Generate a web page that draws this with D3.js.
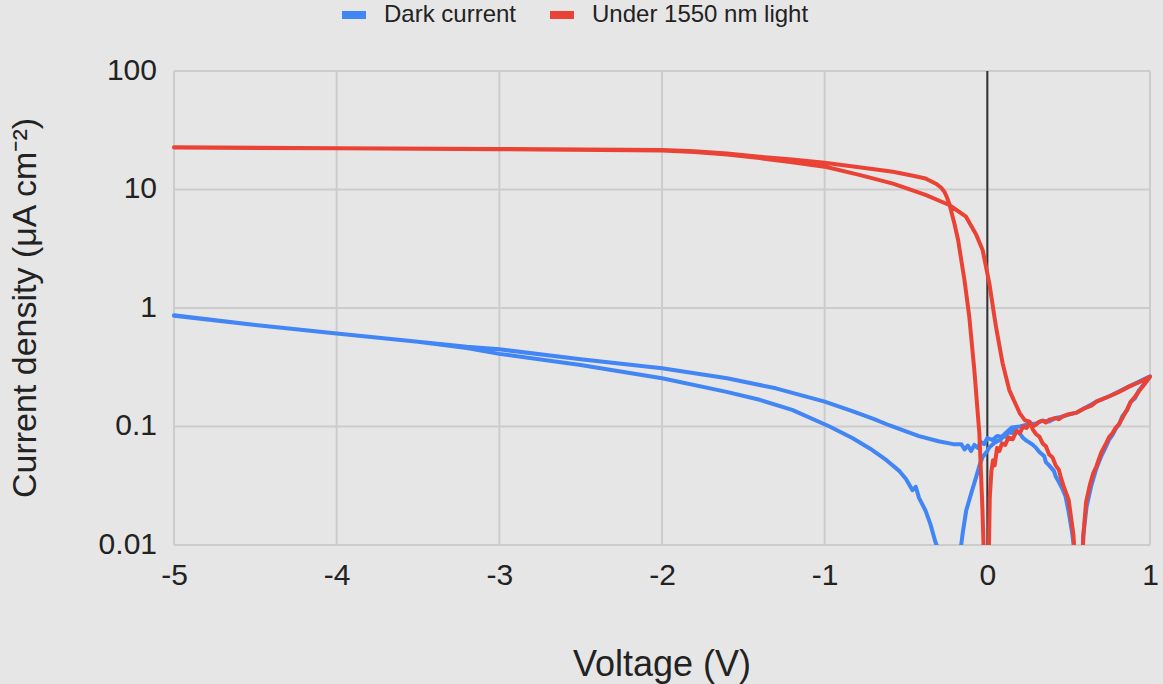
<!DOCTYPE html>
<html>
<head>
<meta charset="utf-8">
<script src="https://cdn.jsdelivr.net/npm/d3@7"></script>
<style>
  html, body { margin: 0; padding: 0; background: #e6e6e6; }
  svg { display: block; font-family: "Liberation Sans", Arial, sans-serif; }
</style>
</head>
<body>
<div id="chart"></div>
<script>
// x ticks and y ticks
var xTicks = [-5, -4, -3, -2, -1, 0, 1];
var xTickLabels = ["-5", "-4", "-3", "-2", "-1", "0", "1"];
var yTicks = [0.01, 0.1, 1, 10, 100];
var yTickLabels = ["0.01", "0.1", "1", "10", "100"];

var seriesNames = ["Dark current", "Under 1550 nm light"];
var seriesColors = ["#4285f4", "#ea4335"];

// dark current sweep: -5 -> 1 then back 1 -> -5 (|J|, uA cm^-2)
var darkV = [
  -5, -4.5, -4, -3.5, -3.2, -3, -2.5, -2, -1.6, -1.3, -1.0, -0.83, -0.7, -0.6, -0.5, -0.42, -0.3, -0.21,
  -0.16, -0.14, -0.12, -0.1, -0.08, -0.06, -0.04, -0.02, 0, 0.03, 0.06, 0.09, 0.12, 0.15, 0.2, 0.25, 0.3,
  0.34, 0.38, 0.42, 0.46, 0.5, 0.55, 0.6, 0.67, 0.75, 0.87, 1.0,
  0.96, 0.93, 0.91, 0.88, 0.86, 0.83, 0.81, 0.79, 0.77, 0.75, 0.73, 0.70, 0.67, 0.64, 0.61, 0.59, 0.575,
  0.545, 0.535, 0.52, 0.50, 0.48, 0.46, 0.44, 0.42, 0.41, 0.38, 0.36, 0.35, 0.32, 0.3, 0.28, 0.26, 0.24,
  0.22, 0.2, 0.17, 0.15, 0.13, 0.11, 0.1, 0.08, 0.06, 0.04, 0.03, 0.01, 0.0, -0.03, -0.05, -0.07, -0.1,
  -0.13, -0.15, -0.17, -0.2, -0.24, -0.28, -0.31, -0.32, -0.35, -0.38, -0.42, -0.44, -0.46, -0.5, -0.54, -0.62,
  -0.72, -0.83, -0.97, -1.2, -1.4, -1.61, -2, -2.5, -3, -3.2, -3.5, -4, -4.5, -5
];
var darkJ = [
  0.87, 0.72, 0.61, 0.52, 0.47, 0.448, 0.37, 0.31, 0.255, 0.21, 0.162, 0.135, 0.116, 0.102, 0.091, 0.083, 0.075, 0.071,
  0.071, 0.064, 0.069, 0.062, 0.07, 0.066, 0.074, 0.071, 0.08, 0.077, 0.083, 0.082, 0.09, 0.098, 0.1, 0.104, 0.106,
  0.112, 0.11, 0.118, 0.121, 0.126, 0.131, 0.143, 0.162, 0.18, 0.217, 0.265,
  0.225, 0.2, 0.175, 0.16, 0.138, 0.122, 0.104, 0.096, 0.085, 0.078, 0.068, 0.056, 0.044, 0.032, 0.021, 0.012, 0.004,
  0.003, 0.009, 0.013, 0.019, 0.026, 0.03, 0.034, 0.038, 0.042, 0.047, 0.05, 0.056, 0.061, 0.066, 0.07, 0.073, 0.076,
  0.08, 0.087, 0.095, 0.088, 0.09, 0.082, 0.083, 0.077, 0.075, 0.072, 0.07, 0.066, 0.062, 0.055, 0.046, 0.037, 0.027,
  0.0195, 0.013, 0.008, 0.004, 0.001, 0.004, 0.0098, 0.0107, 0.015, 0.0195, 0.025, 0.031, 0.029, 0.036, 0.042, 0.052,
  0.065, 0.08, 0.1, 0.138, 0.168, 0.197, 0.255, 0.33, 0.41, 0.46, 0.52, 0.61, 0.72, 0.86
];

// under 1550 nm light sweep: -5 -> 1 then back 1 -> -5
var lightV = [
  -5, -4, -3, -2, -1.8, -1.6, -1.4, -1.2, -1.0, -0.8, -0.58, -0.45, -0.38, -0.316, -0.285, -0.264, -0.25, -0.234,
  -0.203, -0.18, -0.14, -0.111, -0.08, -0.049, -0.03, -0.012, 0.005, 0.015, 0.025, 0.035, 0.045, 0.06, 0.074,
  0.09, 0.11, 0.13, 0.156, 0.18, 0.2, 0.22, 0.24, 0.26, 0.28, 0.3, 0.32, 0.34, 0.36, 0.38, 0.4, 0.42, 0.44, 0.46,
  0.5, 0.55, 0.6, 0.64, 0.67, 0.75, 0.8, 0.87, 0.93, 1.0,
  0.96, 0.94, 0.91, 0.88, 0.86, 0.83, 0.81, 0.79, 0.77, 0.75, 0.73, 0.70, 0.67, 0.65, 0.63, 0.607, 0.59, 0.576,
  0.545, 0.53, 0.5, 0.47, 0.45, 0.44, 0.42, 0.4, 0.38, 0.36, 0.34, 0.32, 0.3, 0.28, 0.26, 0.23, 0.2, 0.16, 0.135,
  0.094, 0.053, 0.012, -0.029, -0.07, -0.131, -0.234, -0.38, -0.58, -0.787, -0.99, -1.2, -1.4, -1.6, -1.8,
  -2, -3, -4, -5
];
var lightJ = [
  22.7, 22.3, 22.0, 21.5, 21.0, 20.1, 18.9, 17.9, 16.8, 15.5, 14.1, 13.0, 12.4, 11.2, 10.4, 9.57, 8.7, 7.6,
  5.2, 3.77, 1.7, 0.845, 0.3, 0.0875, 0.02, 0.003, 0.004, 0.025, 0.042, 0.052, 0.047, 0.066, 0.062,
  0.072, 0.07, 0.081, 0.078, 0.092, 0.088, 0.1, 0.097, 0.106, 0.1, 0.104, 0.11, 0.112, 0.108, 0.114, 0.116, 0.118, 0.115, 0.121,
  0.127, 0.131, 0.143, 0.15, 0.162, 0.18, 0.193, 0.217, 0.235, 0.263,
  0.222, 0.205, 0.18, 0.16, 0.14, 0.118, 0.105, 0.098, 0.088, 0.082, 0.072, 0.06, 0.046, 0.04, 0.032, 0.023, 0.012, 0.003,
  0.004, 0.012, 0.024, 0.031, 0.038, 0.043, 0.047, 0.055, 0.058, 0.068, 0.072, 0.082, 0.086, 0.094, 0.11, 0.113, 0.129, 0.17, 0.203,
  0.341, 0.695, 1.62, 3.09, 4.2, 5.9, 7.4, 9.0, 11.2, 13.3, 15.5, 17.0, 18.4, 19.7, 20.7,
  21.3, 21.9, 22.3, 22.6
];

var W = 1163, H = 684;
var margin = { top: 71, right: 13, bottom: 139, left: 174 };
var pw = W - margin.left - margin.right,
    ph = H - margin.top - margin.bottom;

var svg = d3.select("#chart").append("svg")
    .attr("width", W)
    .attr("height", H);

svg.append("rect")
    .attr("width", W)
    .attr("height", H)
    .attr("fill", "#e6e6e6");

var xScale = d3.scaleLinear().domain([-5, 1]).range([0, pw]);
var yScale = d3.scaleLog().domain([0.01, 100]).range([ph, 0]);

var g = svg.append("g")
    .attr("transform", "translate(" + margin.left + "," + margin.top + ")");

g.append("clipPath").attr("id", "plot-clip")
    .append("rect")
    .attr("x", -2).attr("y", -2)
    .attr("width", pw + 4).attr("height", ph + 2);

// grid lines
g.append("g").selectAll("line")
    .data(xTicks)
    .enter().append("line")
    .attr("x1", function (d) { return xScale(d); })
    .attr("x2", function (d) { return xScale(d); })
    .attr("y1", 0)
    .attr("y2", ph)
    .attr("stroke", "#cccccc")
    .attr("stroke-width", 2);

g.append("g").selectAll("line")
    .data(yTicks)
    .enter().append("line")
    .attr("x1", 0)
    .attr("x2", pw)
    .attr("y1", function (d) { return yScale(d); })
    .attr("y2", function (d) { return yScale(d); })
    .attr("stroke", "#cccccc")
    .attr("stroke-width", 2);

// zero line
g.append("line")
    .attr("x1", xScale(0)).attr("x2", xScale(0))
    .attr("y1", 0).attr("y2", ph)
    .attr("stroke", "#333333")
    .attr("stroke-width", 2);

// tick labels
var xAxis = d3.axisBottom(xScale).tickValues(xTicks).tickSize(0).tickPadding(0)
    .tickFormat(function (d, i) { return xTickLabels[i]; });
var gx = g.append("g").attr("transform", "translate(0," + ph + ")").call(xAxis);
gx.select(".domain").remove();
gx.selectAll("text")
    .attr("y", 40)
    .attr("dy", 0)
    .attr("fill", "#222222")
    .style("font-size", "30px");

var yAxis = d3.axisLeft(yScale).tickValues(yTicks).tickSize(0).tickPadding(17)
    .tickFormat(function (d, i) { return yTickLabels[i]; });
var gy = g.append("g").call(yAxis);
gy.select(".domain").remove();
gy.selectAll("text")
    .attr("dy", "0.28em")
    .attr("fill", "#222222")
    .style("font-size", "30px");

// series lines
var line = d3.line()
    .x(function (d) { return xScale(d[0]); })
    .y(function (d) { return yScale(d[1]); });

var series = [
    d3.zip(darkV, darkJ),
    d3.zip(lightV, lightJ)
];

g.append("g")
    .attr("clip-path", "url(#plot-clip)")
    .selectAll("path")
    .data(series)
    .enter().append("path")
    .attr("d", line)
    .attr("fill", "none")
    .attr("stroke", function (d, i) { return seriesColors[i]; })
    .attr("stroke-width", 4)
    .attr("stroke-linejoin", "round")
    .attr("stroke-linecap", "round");

// axis titles
svg.append("text")
    .attr("x", margin.left + pw / 2)
    .attr("y", 676)
    .attr("text-anchor", "middle")
    .attr("fill", "#222222")
    .style("font-size", "36px")
    .text("Voltage (V)");

svg.append("text")
    .attr("transform", "translate(36," + (margin.top + ph / 2) + ") rotate(-90)")
    .attr("text-anchor", "middle")
    .attr("fill", "#222222")
    .style("font-size", "34px")
    .text("Current density (μA cm⁻²)");

// legend
var legendX = [342, 550];
var legend = svg.append("g").selectAll("g")
    .data(seriesNames)
    .enter().append("g")
    .attr("transform", function (d, i) { return "translate(" + legendX[i] + ",0)"; });

legend.append("rect")
    .attr("x", 0).attr("y", 11)
    .attr("width", 24).attr("height", 8)
    .attr("fill", function (d, i) { return seriesColors[i]; });

legend.append("text")
    .attr("x", 42).attr("y", 22)
    .attr("fill", "#222222")
    .style("font-size", "24px")
    .text(function (d) { return d; });
</script>
</body>
</html>
